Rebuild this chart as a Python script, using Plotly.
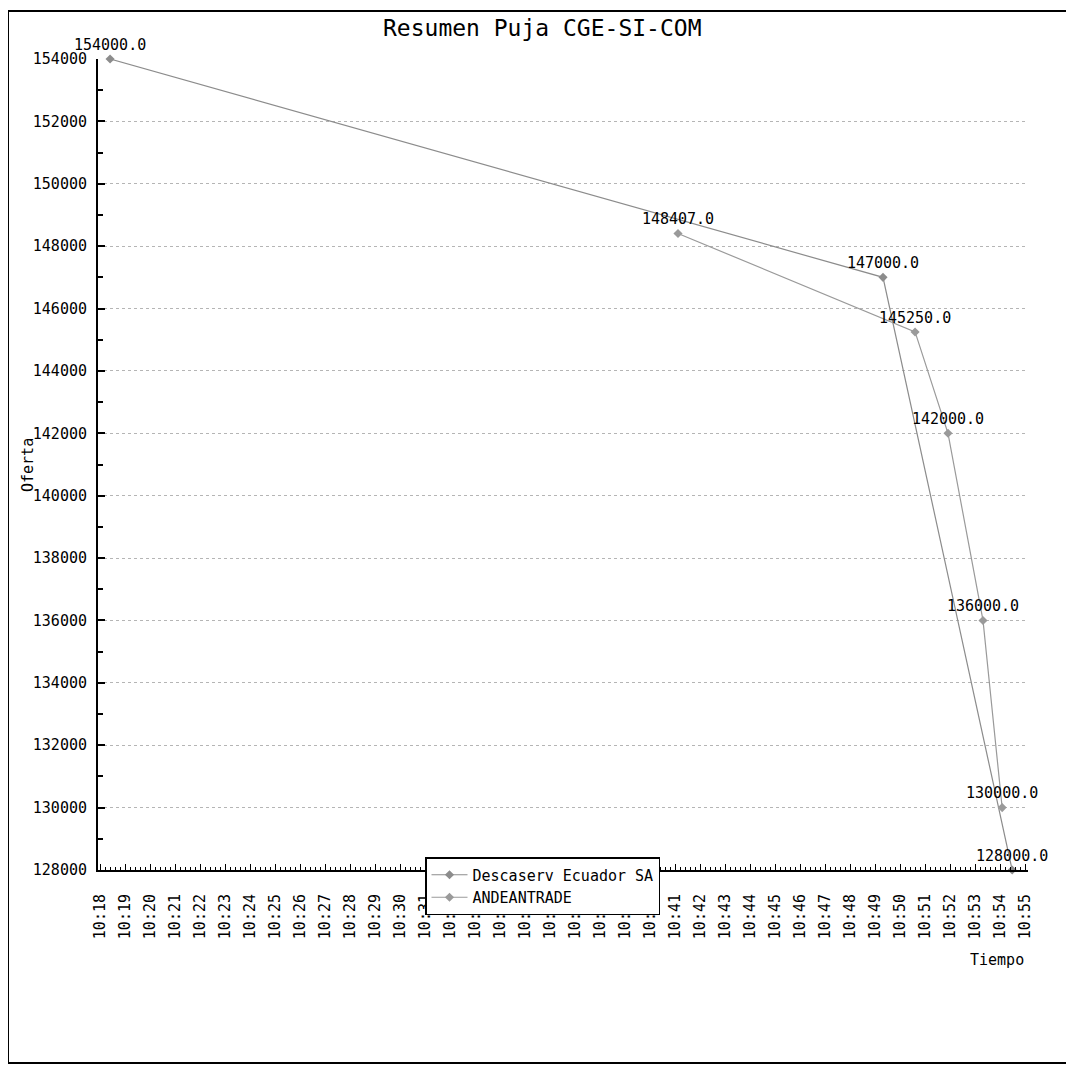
import plotly.graph_objects as go

# ---- data ----
DAY = "2013-01-01 "
desc_times = ["10:18:24", "10:49:19", "10:54:29"]
desc_values = [154000, 147000, 128000]
ande_times = ["10:41:07", "10:50:36", "10:51:55", "10:53:19", "10:54:05"]
ande_values = [148407, 145250, 142000, 136000, 130000]
series_names = ["Descaserv Ecuador SA", "ANDEANTRADE"]
title_text = "Resumen Puja CGE-SI-COM"
x_title = "Tiempo"
y_title = "Oferta"
x_range = ["10:17:55", "10:55:07"]
y_range = [128000, 154000]

# ---- layout geometry (pixels, page coordinates; page body has 8px margin) ----
OFF = 8
W, H = 1074, 1066
L, R, T, B = 98 - OFF, 1028 - OFF, 59 - OFF, 870 - OFF
PW, PH = R - L, B - T


def px_x(p):
    return (p - OFF - L) / PW


def px_y(p):
    return (B - (p - OFF)) / PH


FONT = "DejaVu Sans Mono"
GRAY1 = "#8c8c8c"
GRAY2 = "#9a9a9a"

fig = go.Figure()
for name, times, vals, col in [
    (series_names[0], desc_times, desc_values, GRAY1),
    (series_names[1], ande_times, ande_values, GRAY2),
]:
    fig.add_trace(go.Scatter(
        x=[DAY + t for t in times], y=vals, name=name,
        mode="lines+markers+text",
        text=[f"{v:.1f}" for v in vals],
        textposition="top center",
        textfont=dict(family=FONT, size=15, color="black"),
        line=dict(color=col, width=1.2),
        marker=dict(symbol="diamond", size=7, color=col),
        cliponaxis=False,
    ))

fig.update_layout(
    width=W, height=H,
    margin=dict(l=L, r=W - R, t=T, b=H - B, autoexpand=False),
    paper_bgcolor="white", plot_bgcolor="white",
    font=dict(family=FONT, size=15, color="black"),
    showlegend=True,
    legend=dict(
        x=px_x(425), y=px_y(857), xanchor="left", yanchor="top",
        bordercolor="black", borderwidth=1.5, bgcolor="white",
        font=dict(family=FONT, size=15, color="black"),
        tracegroupgap=0, itemwidth=36,
    ),
)

fig.update_xaxes(
    type="date", range=[DAY + x_range[0], DAY + x_range[1]],
    tick0=DAY + "10:18:00", dtick=60000, tickformat="%H:%M",
    tickangle=-90, tickfont=dict(family=FONT, size=15, color="black"),
    ticks="inside", ticklen=6, tickcolor="black", tickwidth=1,
    minor=dict(dtick=12000, ticks="inside", ticklen=3, tickcolor="black"),
    showline=True, linecolor="black", linewidth=2, mirror=False,
    showgrid=False, zeroline=False, ticklabelstandoff=16,
)
fig.update_yaxes(
    range=y_range, dtick=2000, tick0=128000, tickformat="d",
    tickfont=dict(family=FONT, size=15, color="black"),
    ticks="inside", ticklen=7, tickcolor="black", tickwidth=2,
    minor=dict(dtick=1000, ticks="inside", ticklen=5, tickcolor="black", showgrid=False),
    showline=True, linecolor="black", linewidth=2, mirror=False,
    showgrid=True, gridcolor="#b5b5b5", griddash="dot", gridwidth=1,
    zeroline=False, ticklabelstandoff=6,
)

# title and axis titles as annotations
fig.add_annotation(text=title_text, xref="paper", yref="paper",
                   x=px_x(542), y=px_y(28), showarrow=False,
                   xanchor="center", yanchor="middle",
                   font=dict(family=FONT, size=23, color="black"))
fig.add_annotation(text=y_title, xref="paper", yref="paper",
                   x=px_x(28), y=px_y(465), showarrow=False, textangle=-90,
                   xanchor="center", yanchor="middle",
                   font=dict(family=FONT, size=15, color="black"))
fig.add_annotation(text=x_title, xref="paper", yref="paper",
                   x=px_x(997), y=px_y(960), showarrow=False,
                   xanchor="center", yanchor="middle",
                   font=dict(family=FONT, size=15, color="black"))

# outer frame
fig.add_shape(type="rect", xref="paper", yref="paper",
              x0=px_x(8), x1=px_x(1067), y0=px_y(1063), y1=px_y(11),
              line=dict(color="black", width=2), layer="below")

fig.write_html("out.html")
